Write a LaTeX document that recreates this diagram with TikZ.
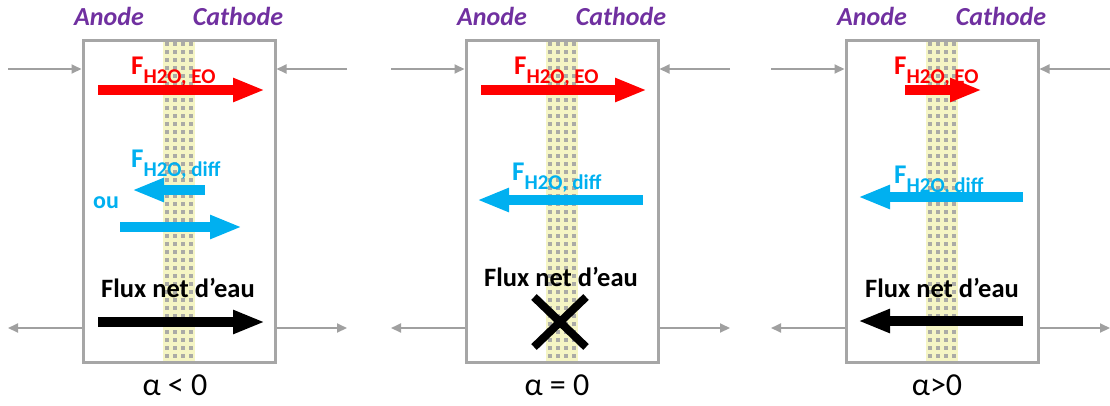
\documentclass[tikz,border=0pt]{standalone}
\usepackage{fontspec}
\setmainfont{Carlito}
\usetikzlibrary{arrows.meta}
\definecolor{boxgray}{HTML}{A6A6A6}
\definecolor{argray}{HTML}{A0A0A0}
\definecolor{eored}{HTML}{FF0000}
\definecolor{diffblue}{HTML}{00B0F0}
\definecolor{purp}{HTML}{7030A0}
\definecolor{memyel}{HTML}{F5F5C4}
\definecolor{memgray}{HTML}{ABABA6}
\newcommand{\Flab}[1]{{\fontsize{27}{29}\selectfont\bfseries F}\raisebox{-9pt}{\fontsize{21}{23}\selectfont\bfseries #1}}
\begin{document}
\begin{tikzpicture}[x=1pt,y=-1pt,
  cellbox/.style={draw=boxgray, line width=3pt, minimum width=192pt, minimum height=322pt, inner sep=0pt},
  side/.style={draw=argray, line width=2pt, -{Triangle[length=10pt,width=9pt]}},
  barrow/.style={line width=10pt, -{Triangle[length=32pt,width=22pt]}},
  elec/.style={font=\fontsize{26}{28}\selectfont\bfseries\itshape, text=purp, inner sep=0pt, anchor=base},
  flab/.style={inner sep=0pt, anchor=base west},
  fluxlab/.style={font=\fontsize{26.5}{28}\selectfont\bfseries, inner sep=0pt, anchor=base},
  alab/.style={font=\fontsize{32}{34}\selectfont, inner sep=0pt, anchor=base},
  oulab/.style={font=\fontsize{24}{26}\selectfont\bfseries, text=diffblue, inner sep=0pt, anchor=base}
]
\useasboundingbox (0,0) rectangle (1110,405);

% ---------- common panel frame ----------
\foreach \sx/\n in {83/1,466/2,846/3}{
  \begin{scope}[xshift=\sx pt]
    \fill[memyel] (80,40) rectangle (112,362);
    \foreach \r in {0,...,39}{
      \foreach \c in {0,...,3}{
        \fill[memgray] (81.5+\c*8, 41.5+\r*8) rectangle ++(4.5,4.5);
      }
    }
    \node[cellbox] (box\n) at (96,201) {};
    \coordinate (la\n) at (-75,69);
    \coordinate (ra\n) at (264,69);
    \coordinate (lb\n) at (-75,328);
    \coordinate (rb\n) at (264,328);
    \draw[side] (la\n) -- (box\n.west |- la\n);
    \draw[side] (ra\n) -- (box\n.east |- ra\n);
    \draw[side] (box\n.west |- lb\n) -- (lb\n);
    \draw[side] (box\n.east |- rb\n) -- (rb\n);
    \node[elec] (an\n) at (26,25) {Anode};
    \node[elec] (ca\n) at (155,25) {Cathode};
  \end{scope}
}

% ---------- panel 1 : alpha < 0 ----------
\begin{scope}[xshift=83pt]
  \node[flab, text=eored] (eo1) at (48,74) {\Flab{H2O, EO}};
  \coordinate (r1s) at (15,90); \coordinate (r1e) at (182,90);
  \draw[barrow, eored] (r1s) -- (r1e);
  \node[flab, text=diffblue] (df1) at (48,167) {\Flab{H2O, diff}};
  \coordinate (b1s) at (122,190); \coordinate (b1e) at (49,190);
  \draw[barrow, diffblue] (b1s) -- (b1e);
  \node[oulab] (ou1) at (23,208) {ou};
  \coordinate (c1s) at (37,227); \coordinate (c1e) at (159,227);
  \draw[barrow, diffblue] (c1s) -- (c1e);
  \node[fluxlab] (fx1) at (95,297) {Flux net d’eau};
  \coordinate (k1s) at (15,322); \coordinate (k1e) at (182,322);
  \draw[barrow, black] (k1s) -- (k1e);
  \node[alab] (al1) at (92,395) {α < 0};
\end{scope}

% ---------- panel 2 : alpha = 0 ----------
\begin{scope}[xshift=466pt]
  \node[flab, text=eored] (eo2) at (48,74) {\Flab{H2O, EO}};
  \coordinate (r2s) at (15,90); \coordinate (r2e) at (181,90);
  \draw[barrow, eored] (r2s) -- (r2e);
  \node[flab, text=diffblue] (df2) at (46,180) {\Flab{H2O, diff}};
  \coordinate (b2s) at (177,200); \coordinate (b2e) at (11,200);
  \draw[barrow, diffblue] (b2s) -- (b2e);
  \node[fluxlab] (fx2) at (95,286) {Flux net d’eau};
  \coordinate (x2a) at (68,297); \coordinate (x2b) at (120,347);
  \coordinate (x2c) at (120,297); \coordinate (x2d) at (68,347);
  \draw[line width=8pt] (x2a) -- (x2b);
  \draw[line width=8pt] (x2c) -- (x2d);
  \node[alab] (al2) at (91,395) {α = 0};
\end{scope}

% ---------- panel 3 : alpha > 0 ----------
\begin{scope}[xshift=846pt]
  \node[flab, text=eored] (eo3) at (48,74) {\Flab{H2O, EO}};
  \coordinate (r3s) at (59,90); \coordinate (r3e) at (136,90);
  \draw[barrow, eored] (r3s) -- (r3e);
  \node[flab, text=diffblue] (df3) at (48,183) {\Flab{H2O, diff}};
  \coordinate (b3s) at (177,197); \coordinate (b3e) at (12,197);
  \draw[barrow, diffblue] (b3s) -- (b3e);
  \node[fluxlab] (fx3) at (96,297) {Flux net d’eau};
  \coordinate (k3s) at (177,321); \coordinate (k3e) at (12,321);
  \draw[barrow, black] (k3s) -- (k3e);
  \node[alab] (al3) at (91,395) {α>0};
\end{scope}
\end{tikzpicture}
\end{document}
